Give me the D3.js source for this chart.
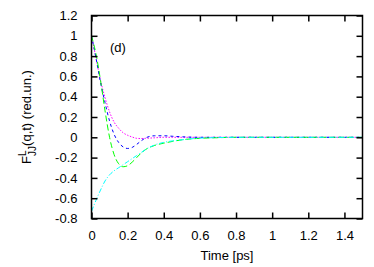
<meta charset="utf-8">
<script src="https://cdn.jsdelivr.net/npm/d3@7"></script>
<style>
  body { margin: 0; background: #fff; }
  text { font-family: "Liberation Sans", Arial, sans-serif; fill: #000; }
</style>
<svg id="vis"></svg>
<script>
  // time axis (ps)
  var times = [0, 0.025, 0.05, 0.075, 0.1, 0.125, 0.15, 0.175, 0.2, 0.225, 0.25, 0.275, 0.3, 0.35, 0.4, 0.45, 0.5, 0.6, 0.7, 0.8, 1.0, 1.2, 1.5];

  // four curves
  var magenta = [1, 0.78, 0.56, 0.39, 0.25, 0.15, 0.09, 0.045, 0.02, 0.003, -0.01, -0.012, -0.01, -0.005, 0, 0, 0, 0, 0, 0, 0, 0, 0];
  var blue    = [1, 0.78, 0.54, 0.34, 0.16, 0.03, -0.05, -0.095, -0.11, -0.10, -0.07, -0.035, -0.005, 0.015, 0.015, 0.01, 0.005, 0, 0, 0, 0, 0, 0];
  var green   = [1, 0.82, 0.56, 0.26, 0.0, -0.17, -0.26, -0.29, -0.28, -0.245, -0.2, -0.155, -0.12, -0.08, -0.058, -0.04, -0.025, -0.01, -0.004, 0, 0, 0, 0];
  var cyan    = [-0.73, -0.62, -0.52, -0.43, -0.37, -0.33, -0.3, -0.27, -0.24, -0.21, -0.18, -0.15, -0.12, -0.075, -0.05, -0.035, -0.025, -0.008, -0.003, 0, 0, 0, 0];

  var xTicks = [0, 0.2, 0.4, 0.6, 0.8, 1, 1.2, 1.4];
  var yTicks = [-0.8, -0.6, -0.4, -0.2, 0, 0.2, 0.4, 0.6, 0.8, 1, 1.2];

  var series = [
    {name: 'magenta', values: magenta, color: '#ff00ff', dash: '1.5,1.5'},
    {name: 'blue', values: blue, color: '#0000ff', dash: '3,3'},
    {name: 'green', values: green, color: '#00ff00', dash: '6,3'},
    {name: 'cyan', values: cyan, color: '#00ffff', dash: '5,2,1,2'}
  ];

  var W = 374, H = 267;
  var pL = 91.5, pR = 362.5, pT = 15.5, pB = 218.5;
  var fs = 13;

  var svg = d3.select('#vis')
      .attr('width', W)
      .attr('height', H);

  var xScale = d3.scaleLinear().domain([0, 1.5]).range([pL, pR]);
  var yScale = d3.scaleLinear().domain([-0.8, 1.2]).range([pB, pT]);

  // Curves
  var line = d3.line()
      .x(function(d) { return xScale(d[0]); })
      .y(function(d) { return yScale(d[1]); })
      .curve(d3.curveMonotoneX);

  svg.append('g').selectAll('path')
      .data(series)
      .enter().append('path')
      .attr('d', function(s) { return line(times.map(function(t, i) { return [t, s.values[i]]; })); })
      .attr('fill', 'none')
      .attr('stroke', function(s) { return s.color; })
      .attr('stroke-width', 1)
      .attr('stroke-dasharray', function(s) { return s.dash; });

  // Axes, ticks pointing inward
  var tk = 6;
  var plain = function(d) { return String(d); };
  svg.append('g')
      .attr('transform', 'translate(0,' + pB + ')')
      .call(d3.axisBottom(xScale).tickValues(xTicks).tickSizeInner(-tk).tickSizeOuter(0).tickPadding(12).tickFormat(plain))
      .call(function(g) { g.select('.domain').remove(); });
  svg.append('g')
      .attr('transform', 'translate(0,' + pT + ')')
      .call(d3.axisTop(xScale).tickValues(xTicks).tickSizeInner(-tk).tickSizeOuter(0).tickFormat(''))
      .call(function(g) { g.select('.domain').remove(); });
  svg.append('g')
      .attr('transform', 'translate(' + pL + ',0)')
      .call(d3.axisLeft(yScale).tickValues(yTicks).tickSizeInner(-tk).tickSizeOuter(0).tickPadding(14).tickFormat(plain))
      .call(function(g) { g.select('.domain').remove(); });
  svg.append('g')
      .attr('transform', 'translate(' + pR + ',0)')
      .call(d3.axisRight(yScale).tickValues(yTicks).tickSizeInner(-tk).tickSizeOuter(0).tickFormat(''))
      .call(function(g) { g.select('.domain').remove(); });

  svg.selectAll('.tick line').attr('stroke', '#000').attr('stroke-width', 1.5);
  svg.selectAll('.tick text').attr('font-size', fs).attr('font-family', '"Liberation Sans", Arial, sans-serif');

  // Frame
  svg.append('rect')
      .attr('x', pL).attr('y', pT)
      .attr('width', pR - pL).attr('height', pB - pT)
      .attr('fill', 'none').attr('stroke', '#000').attr('stroke-width', 1.5);

  // Labels
  svg.append('text')
      .attr('x', (pL + pR) / 2).attr('y', 260)
      .attr('text-anchor', 'middle').attr('font-size', fs)
      .text('Time [ps]');

  svg.append('text')
      .attr('x', 110).attr('y', 52)
      .attr('font-size', fs)
      .text('(d)');

  var ylab = svg.append('text')
      .attr('transform', 'translate(31,117) rotate(-90)')
      .attr('text-anchor', 'middle').attr('font-size', fs);
  ylab.append('tspan').text('F');
  ylab.append('tspan').attr('font-size', 10).attr('dy', -5).text('L');
  ylab.append('tspan').attr('font-size', 10).attr('dx', -5.5).attr('dy', 10).text('JJ');
  ylab.append('tspan').attr('dy', -5).text('(q,t) (red.un.)');
</script>
